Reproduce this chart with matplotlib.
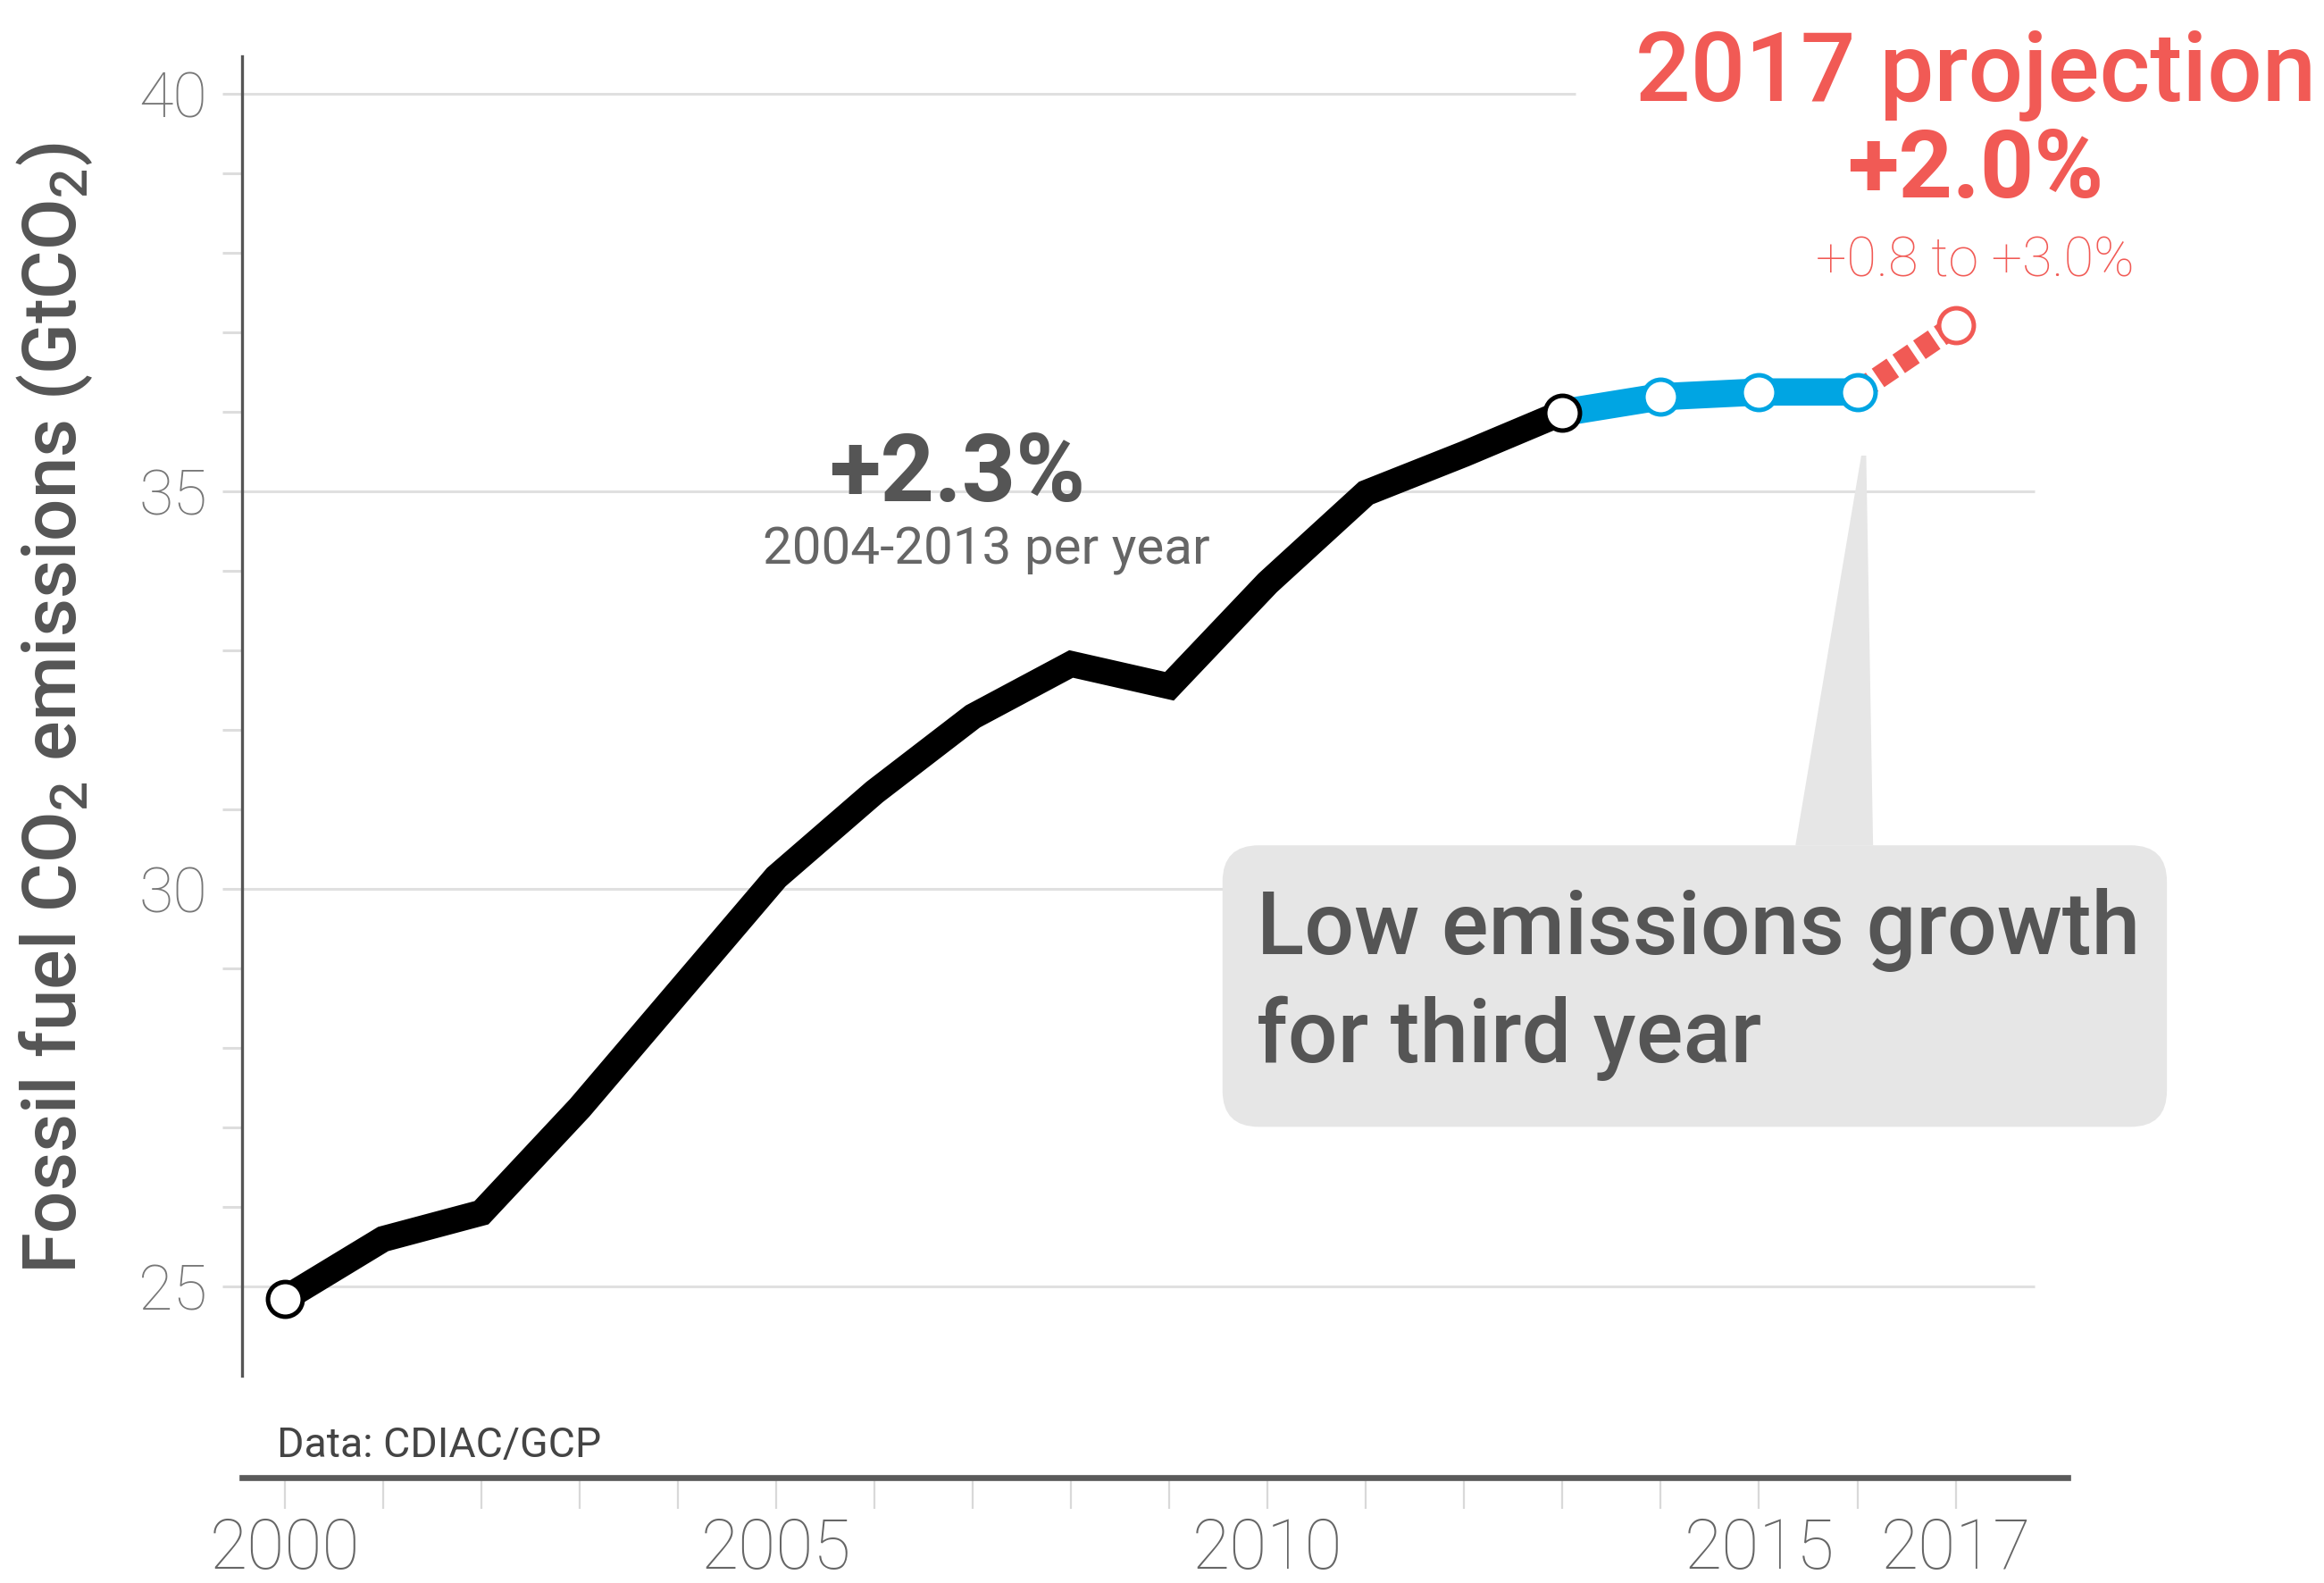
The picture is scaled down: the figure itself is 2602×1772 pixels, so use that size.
import matplotlib.pyplot as plt
from matplotlib.patches import FancyBboxPatch, Polygon
from matplotlib.ticker import FixedLocator

plt.rcParams['font.family'] = ['Roboto', 'DejaVu Sans']
plt.rcParams['mathtext.fontset'] = 'custom'
plt.rcParams['mathtext.rm'] = 'Roboto:medium'
plt.rcParams['mathtext.it'] = 'Roboto:medium'

# fossil fuel CO2 emissions (GtCO2)
hist_years = [2000, 2001, 2002, 2003, 2004, 2005, 2006,
              2007, 2008, 2009, 2010, 2011, 2012, 2013]
hist_values = [24.85, 25.60, 25.93, 27.25, 28.70, 30.15, 31.22,
               32.17, 32.83, 32.55, 33.85, 34.98, 35.47, 35.99]
recent_years = [2013, 2014, 2015, 2016]
recent_values = [35.99, 36.19, 36.25, 36.25]
proj_years = [2016, 2017]
proj_values = [36.25, 37.09]

tick_years = list(range(2000, 2018))
labelled_years = [2000, 2005, 2010, 2015, 2017]
y_major = [25, 30, 35, 40]
y_minor = [v for v in range(26, 40) if v not in y_major]

RED = '#f15a55'
BLUE = '#00a5e3'
GREY = '#555555'

XMIN, XMAX = 1999.56, 2018.14
YMIN, YMAX = 22.6, 40.47

fig = plt.figure(figsize=(13.01, 8.86), dpi=200)
ax = fig.add_axes([0.104, 0.0666, 0.7857, 0.8978])
ax.set_xlim(XMIN, XMAX)
ax.set_ylim(YMIN, YMAX)

# gridlines (top one stops short of the projection title)
grid_ends = [2017.8, 2017.8, 2017.8, 2013.13]
ax.hlines(y_major, XMIN, grid_ends, color='#e0e0e0', lw=1.1, zorder=1)

# series
ax.plot(hist_years, hist_values, color='black', lw=10.5,
        solid_capstyle='butt', solid_joinstyle='miter', zorder=4)
ax.plot(recent_years, recent_values, color=BLUE, lw=11,
        solid_capstyle='butt', zorder=3)
ax.plot(proj_years, proj_values, color=RED, lw=9, dashes=(0.8, 0.32),
        dash_capstyle='butt', zorder=3)

mk = dict(ls='none', marker='o', ms=14, mfc='white', mew=1.8)
ax.plot([hist_years[0], hist_years[-1]], [hist_values[0], hist_values[-1]],
        mec='black', zorder=6, **mk)
ax.plot(recent_years[1:], recent_values[1:], mec=BLUE, zorder=6, **mk)
ax.plot(proj_years[1:], proj_values[1:], mec=RED, zorder=6, **mk)

# callout box with pointer
box = FancyBboxPatch((2009.54, 27.01), 9.61, 3.54,
                     boxstyle='round,pad=0,rounding_size=0.37',
                     mutation_aspect=1.236, fc='#e6e6e6', ec='none',
                     clip_on=False, zorder=2)
ax.add_patch(box)
ax.add_patch(Polygon([(2015.37, 30.55), (2016.16, 30.55), (2016.09, 35.45),
                      (2016.04, 35.45)], closed=True, fc='#e6e6e6',
                     ec='none', zorder=2))
ax.text(2009.89, 29.18, 'Low emissions growth', ha='left', va='baseline',
        fontsize=35.4, fontweight='medium', color=GREY, zorder=5)
ax.text(2009.89, 27.82, 'for third year', ha='left', va='baseline',
        fontsize=35.4, fontweight='medium', color=GREY, zorder=5)

# annotations
ax.text(2017.2, 39.91, '2017 projection', ha='center', va='baseline',
        fontsize=39, fontweight='medium', color=RED)
ax.text(2017.2, 38.70, '+2.0%', ha='center', va='baseline',
        fontsize=38, fontweight='bold', color=RED)
ax.text(2017.2, 37.70, '+0.8 to +3.0%', ha='center', va='baseline',
        fontsize=22, fontweight='light', color=RED)
ax.text(2006.84, 34.88, '+2.3%', ha='center', va='baseline',
        fontsize=38, fontweight='bold', color=GREY, zorder=6)
ax.text(2007.14, 34.08, '2004-2013 per year', ha='center', va='baseline',
        fontsize=21, color='#666666', zorder=5,
        bbox=dict(boxstyle='square,pad=0.45', fc='white', ec='none'))
ax.text(1999.92, 22.86, 'Data: CDIAC/GCP', ha='left', va='baseline',
        fontsize=16.7, color='#444444')

# axes styling
for side in ['top', 'right']:
    ax.spines[side].set_visible(False)
ax.spines['left'].set_bounds(23.88, YMAX)
ax.spines['left'].set_color(GREY)
ax.spines['left'].set_linewidth(1.2)
ax.spines['bottom'].set_color('#5a5a5a')
ax.spines['bottom'].set_linewidth(2.4)

ax.set_xticks(tick_years)
ax.set_xticklabels([str(y) if y in labelled_years else '' for y in tick_years])
ax.tick_params(axis='x', length=12.6, width=0.8, color='#d9d9d9', pad=3.2,
               labelsize=27.7, labelcolor='#666666')

ax.set_yticks(y_major)
ax.yaxis.set_minor_locator(FixedLocator(y_minor))
ax.tick_params(axis='y', which='both', length=8, width=1.1, color='#dddddd')
ax.tick_params(axis='y', which='major', pad=5.8, labelsize=25.3,
               labelcolor='#777777')
for lbl in ax.get_xticklabels() + ax.get_yticklabels():
    lbl.set_fontweight('light')

ax.set_ylabel(r'Fossil fuel CO$_2$ emissions (GtCO$_2$)', fontsize=30,
              fontweight='medium', color=GREY, ha='center', va='center')
ax.yaxis.set_label_coords(-0.1025, 0.541)

fig.savefig('out.png', dpi=200)
